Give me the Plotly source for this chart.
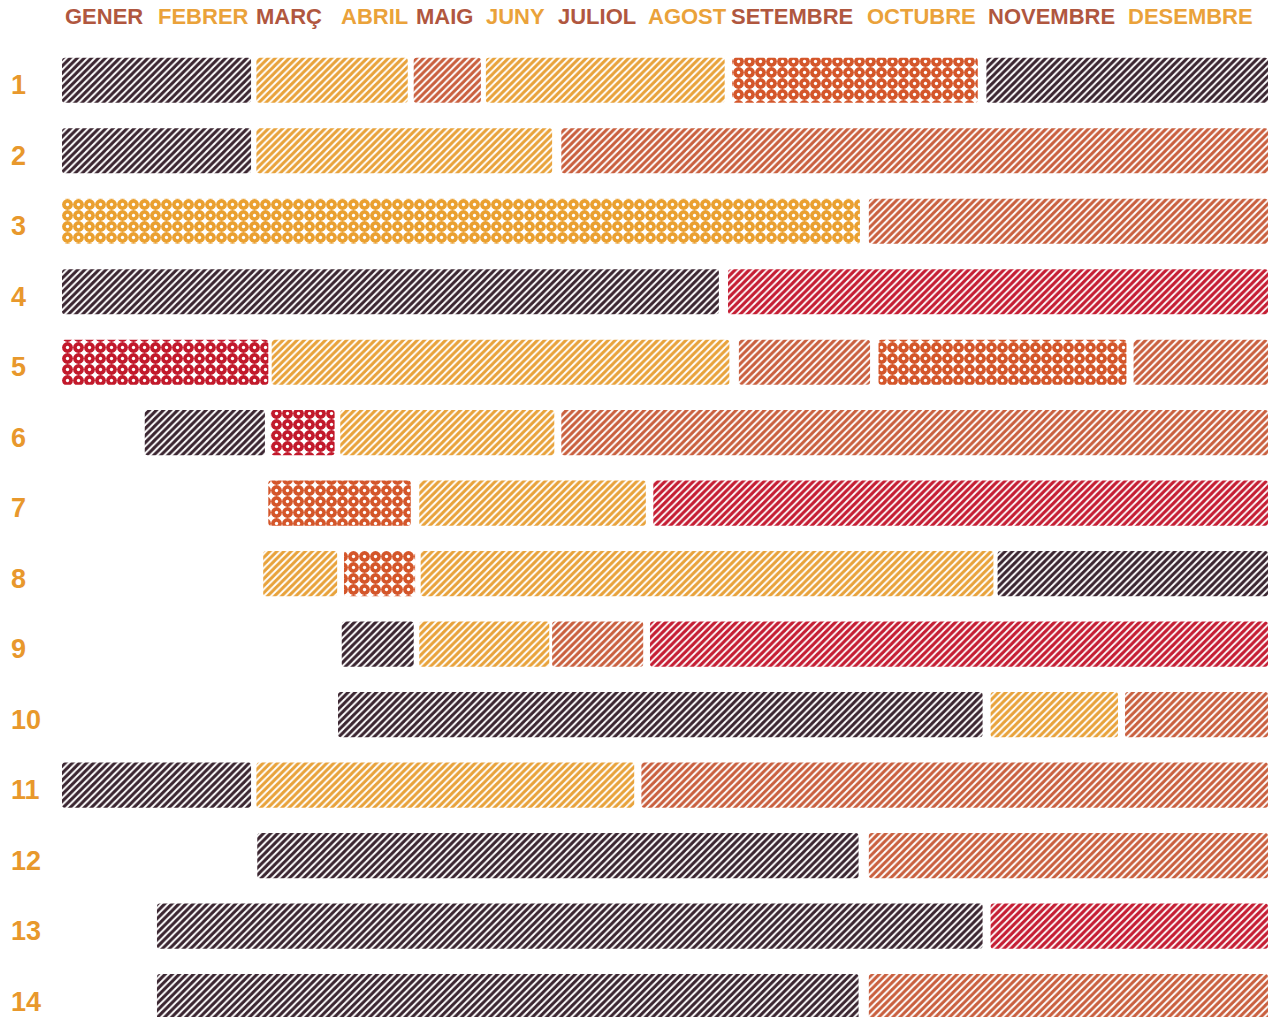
import plotly.graph_objects as go

# ---------------- data ----------------
months = ["GENER", "FEBRER", "MARÇ", "ABRIL", "MAIG", "JUNY", "JULIOL",
          "AGOST", "SETEMBRE", "OCTUBRE", "NOVEMBRE", "DESEMBRE"]
row_labels = [str(i) for i in range(1, 15)]

# one entry per bar segment (start / end in months, 0 = 1 Jan, 12 = 31 Dec)
seg_row = [1, 1, 1, 1, 1, 1,
           2, 2, 2,
           3, 3,
           4, 4,
           5, 5, 5, 5, 5,
           6, 6, 6, 6,
           7, 7, 7,
           8, 8, 8, 8,
           9, 9, 9, 9,
           10, 10, 10,
           11, 11, 11,
           12, 12,
           13, 13,
           14, 14]
seg_start = [0.00, 2.04, 4.01, 5.04, 8.03, 10.01,
             0.00, 2.04, 6.07,
             0.00, 9.04,
             0.00, 8.00,
             0.00, 2.22, 8.08, 9.12, 11.06,
             0.89, 2.21, 3.03, 6.07,
             2.18, 4.09, 7.10,
             2.12, 3.08, 4.11, 10.09,
             3.05, 4.09, 5.96, 7.06,
             3.00, 10.04, 11.00,
             0.00, 2.04, 6.96,
             2.05, 9.04,
             1.02, 10.04,
             1.02, 9.04]
seg_end = [1.98, 3.93, 4.97, 7.96, 9.94, 12.0,
           1.98, 5.96, 12.0,
           8.97, 12.0,
           7.89, 12.0,
           2.18, 8.01, 9.05, 11.01, 12.0,
           2.14, 2.96, 5.99, 12.0,
           3.97, 7.01, 12.0,
           2.99, 4.03, 10.06, 12.0,
           4.01, 5.92, 6.98, 12.0,
           9.98, 10.95, 12.0,
           1.98, 6.88, 12.0,
           8.96, 12.0,
           9.98, 12.0,
           8.96, 12.0]
seg_kind = ["D", "Y", "S", "Y", "OC", "D",
            "D", "Y", "S",
            "YC", "S",
            "D", "R",
            "RC", "Y", "S", "OC", "S",
            "D", "RC", "Y", "S",
            "OC", "Y", "R",
            "Y", "OC", "Y", "D",
            "D", "Y", "S", "R",
            "D", "Y", "S",
            "D", "Y", "S",
            "D", "S",
            "D", "R",
            "D", "S"]

# ---------------- styling ----------------
# displayed width of every month column (the calendar is not uniform)
month_span = [93, 98, 85, 75, 70, 72, 90, 83, 136, 121, 140, 143]
edges = [0]
for w in month_span:
    edges.append(edges[-1] + w)


def to_x(v):
    m = min(int(v), 11)
    return edges[m] + (v - m) * month_span[m]


styles = {
    "D":  dict(shape="/", color="#3a2530", size=5, solidity=0.6),
    "Y":  dict(shape="/", color="#e8a23a", size=5, solidity=0.6),
    "S":  dict(shape="/", color="#c95f3e", size=5, solidity=0.6),
    "R":  dict(shape="/", color="#c51d33", size=5, solidity=0.65),
    "OC": dict(shape=".", color="#d4562a", size=11, solidity=0.76),
    "YC": dict(shape=".", color="#eaa030", size=11, solidity=0.76),
    "RC": dict(shape=".", color="#c2192b", size=11, solidity=0.76),
}

fig = go.Figure()
for kind, st in styles.items():
    idx = [i for i, k in enumerate(seg_kind) if k == kind]
    ys = [seg_row[i] for i in idx]
    bases = [to_x(seg_start[i]) for i in idx]
    lens = [to_x(seg_end[i]) - to_x(seg_start[i]) for i in idx]
    fig.add_trace(go.Bar(
        orientation="h", y=ys, x=lens, base=bases, width=0.64,
        marker=dict(color="white", line=dict(width=0), cornerradius=3,
                    pattern=dict(shape=st["shape"], fgcolor=st["color"],
                                 bgcolor="white", size=st["size"],
                                 solidity=st["solidity"], fillmode="replace")),
        hoverinfo="skip", showlegend=False))
    if st["shape"] == ".":
        # small white centre of every ring
        fig.add_trace(go.Bar(
            orientation="h", y=ys, x=lens, base=bases, width=0.64,
            marker=dict(color="rgba(0,0,0,0)", line=dict(width=0),
                        pattern=dict(shape=".", fgcolor="white",
                                     bgcolor="rgba(0,0,0,0)", size=st["size"],
                                     solidity=0.07, fillmode="replace")),
            hoverinfo="skip", showlegend=False))

annotations = []
month_colors = ["#b0573f", "#eaa23a"]
for i, name in enumerate(months):
    annotations.append(dict(
        x=edges[i], y=1, xref="x", yref="paper", xanchor="left",
        yanchor="middle", xshift=1, yshift=29, showarrow=False, text=name,
        font=dict(family="Liberation Sans, Arial", size=22, weight="bold",
                  color=month_colors[i % 2])))
for i, lab in enumerate(row_labels):
    annotations.append(dict(
        x=0, y=i + 1, xref="paper", yref="y", xanchor="left",
        yanchor="middle", xshift=-53, yshift=-5, showarrow=False, text=lab,
        font=dict(family="Liberation Sans, Arial", size=27, weight="bold",
                  color="#e8982c")))

fig.update_layout(
    width=1270, height=1017, barmode="overlay",
    margin=dict(l=62, r=2, t=45, b=0),
    paper_bgcolor="white", plot_bgcolor="white",
    xaxis=dict(range=[0, edges[-1]], visible=False, fixedrange=True),
    yaxis=dict(range=[14.29, 0.5], visible=False, fixedrange=True),
    annotations=annotations,
)

fig.write_html("out.html", config={"displayModeBar": False},
               post_script="document.body.style.margin='0';")
